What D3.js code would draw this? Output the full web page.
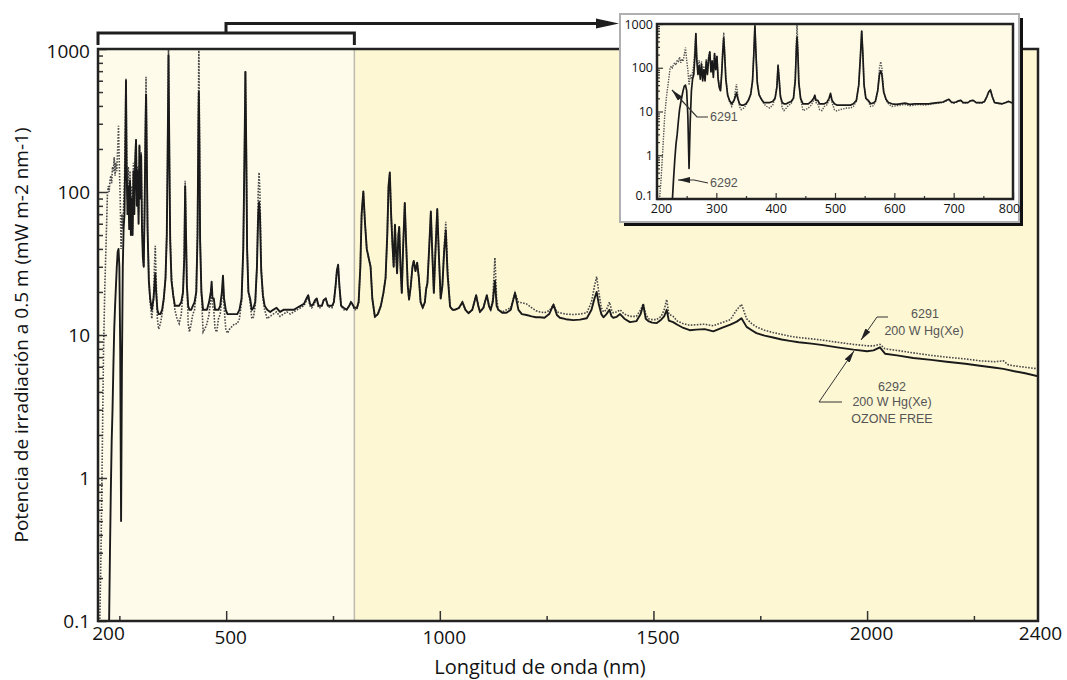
<!DOCTYPE html>
<html>
<head>
<meta charset="UTF-8">
<style>
    * { margin: 0; padding: 0; }
    body { background: #fff; width: 1067px; height: 680px; overflow: hidden; }
    svg text { font-family: "Open Sans", sans-serif; }
    .note { font-family: "Liberation Sans", Arial, sans-serif; font-size: 12.5px; fill: #555; }
</style>
<script src="https://d3js.org/d3.v7.min.js"></script>
<title>Lámparas 6291 / 6292</title>
</head>
<body>
<svg id="chart" width="1067" height="680"></svg>
<script>
// wavelength (nm) and spectral irradiance at 0.5 m (mW m-2 nm-1)
var wavelength = [200,204,207,210,213,216,219,222,224,226,228,230,232,234,236,238,240,242,244,246,248,250,252,254,256,258,260,262,264,265.5,267,269,271,273,275,277,279,281,283,285,287,289,291,293,295,297,299,301,303,305,307,309,311,312.5,314,316,319,322,326,330,332,334,336,339,342,346,350,354,358,361,363,365,367,369,372,376,380,385,390,395,399,402,404,406,408,411,414,418,422,426,430,433,435,436,437.5,439,442,446,450,455,460,464,466,468,471,474,478,482,486,490,492.5,495,499,503,508,514,520,526,531,536,540,543,545,547,549,552,556,560,564,568,572,575,577,579,582,586,590,596,603,610,618,626,634,642,650,658,666,674,682,688,692,696,700,704,708,712,716,720,724,728,733,738,743,748,752,756,759,762,765,769,775,782,788,792,795,800,806,810,814,817,821,825,829,834,838,842,848,855,862,868,873,877,880,883,886,889,892,895,898,900,903,905,908,911,914,918,921,925,928,932,936,939,943,947,951,955,960,965,968,971,975,979,982,986,990,994,998,1002,1006,1010,1014,1018,1024,1030,1035,1045,1053,1060,1067,1076,1085,1090,1094,1102,1110,1115,1119,1124,1129,1133,1137,1146,1156,1166,1176,1184,1192,1203,1215,1225,1234,1245,1256,1266,1274,1281,1295,1312,1328,1344,1355,1362,1367,1372,1378,1383,1390,1397,1402,1406,1414,1422,1432,1445,1460,1470,1476,1482,1488,1497,1507,1518,1525,1531,1536,1546,1556,1570,1585,1600,1620,1640,1660,1680,1695,1706,1718,1730,1741,1760,1780,1800,1819,1840,1870,1897,1930,1968,2000,2015,2030,2042,2070,2108,2150,2186,2230,2264,2300,2319,2330,2342,2370,2400];

var irr6291 = [0.05,0.09,0.3,1.5,8,22,45,95,110,100,120,130,115,150,140,175,130,160,140,200,290,150,90,40,70,55,80,120,300,620,200,90,150,70,140,60,110,55,160,80,180,235,90,150,70,215,100,190,60,40,30,80,300,640,250,60,25,17,13,18,30,42,25,13,11,12,14,18,25,50,200,1000,200,50,25,19,15,13,12,14,20,40,120,60,25,12,10.5,12,14,15,20,60,400,1100,300,50,20,10.5,11,12,14,18,20,16,15,11,10.5,13,14,18,24,16,11,10.3,11,11.5,12,12,13,17,40,200,700,200,40,20,17,13,13.4,16,30,100,137,100,30,18,15,13,13.5,14,14.5,13.5,14,14.5,14,14.5,15,15.5,16,17.5,19,16,15.5,16,17,18,15.5,15.5,16,17.5,18,16,15.5,15.5,17,22,28,31,22,16,15,15,16,17,16.5,15,15,17,30,70,101,60,40,34,30,18,13.4,14,16,19.7,25,50,110,137,70,44,30,59,35,27,50,57,30,19.7,40,84,45,22,17.7,22,30,33,28,32,25,17,15.5,17,21,23,40,73,40,19.7,40,76,35,18,22,40,62,30,15.8,15,15,15.5,17,15,14.2,15,19,16,14.5,15.5,19,16,15,18,34.7,18,15,14.5,15,15.5,19.7,17,16.8,16.5,15.5,14.8,14.5,14.3,14.8,16.3,14.5,14.3,14,13.9,14,14.3,17,22,25.6,20,15.5,14.5,15,17,15,14.3,14.5,15,14,13.5,13.5,15,16.5,14,13,12.8,12.8,13.5,15,17.7,14,13.5,12.5,12,11.7,11.8,11.9,11.6,12.2,12.8,15,16.4,13,12,11.4,10.8,10.4,10.1,9.8,9.6,9.4,9.2,8.9,8.6,8.4,8.4,8.6,8.0,7.8,7.5,7.2,7.0,6.8,6.6,6.5,6.6,6.2,6.1,5.95,5.8];

var irr6292 = [0.02,0.02,0.02,0.02,0.02,0.02,0.02,0.03,0.06,0.1,0.3,0.8,1.8,3,6,11,16,22,30,38,40,30,8,0.5,6,30,56,70,200,600,150,70,110,55,120,50,90,50,140,70,160,230,80,140,60,210,90,180,55,35,30,70,250,480,200,55,24,18,15,18,22,27,20,15,14,14,15,18,25,50,180,900,180,45,24,19,16,16,16,17,20,35,110,50,22,16,15,15,16,17,20,50,300,500,200,45,20,15,15,15,17,20,23.6,18,18,15,15,15,16,20,26,18,15,14,14,14,14,14,15,18,40,200,690,200,40,20,18,15,15.5,17,30,70,85,70,28,19,16,15,14.5,15,15.5,14.5,15,15,15,15,15.5,16,16.5,18,19,16.5,16,16.5,17.5,18,16,16,16,17.5,18,16,16,16,17,22,28,31,22,16,15.5,15,16,17,16.5,15.5,15.5,17,30,70,101,60,40,34,30,18,13.4,14,16,19.7,25,50,110,137,70,44,30,59,35,27,50,57,30,19.7,40,84,45,22,17.7,22,30,33,28,32,25,17,15.5,17,21,23,40,73,40,19.7,40,76,35,18,22,38,54,27,15.8,15,15,15.5,17,15,14.2,15,19,16,14.5,15.5,19,16,15,17,24,16,15,14.3,14.3,15,19.7,15,14,13.8,13.5,13.3,13.3,13.2,14,16.3,13.8,13.2,12.9,12.7,12.8,13.1,15,18,20,16.5,14,13.3,14,15,13.5,13.2,13.4,14,13,12.3,12.5,14,16.3,13,12.5,12.2,12.1,12.8,13.5,15,12.6,12.3,11.8,11.2,10.8,10.9,11,10.6,11.2,11.8,12.4,13.1,11.4,10.8,10.3,9.9,9.6,9.3,9.1,8.9,8.7,8.5,8.2,7.9,7.7,7.8,8.2,7.4,7.2,6.9,6.7,6.5,6.3,6.1,5.9,5.8,5.7,5.6,5.4,5.15];

var xTickLabels = [200, 500, 1000, 1500, 2000, 2400];
var yTickLabels = [0.1, 1, 10, 100, 1000];
var insetXTicks = [200, 300, 400, 500, 600, 700, 800];

var svg = d3.select("#chart");
var pts = wavelength.map(function (w, i) { return {w: w, a: irr6291[i], b: irr6292[i]}; });

var plotL = 98, plotR = 1038, plotT = 49, plotB = 621;
var x = d3.scaleLinear().domain([200, 2400]).range([plotL, plotR]);
var y = d3.scaleLog().domain([0.1, 1000]).range([plotB, plotT]);

var minorY = [];
[0.1, 1, 10, 100].forEach(function (d) {
    for (var m = 2; m <= 9; m++) minorY.push(d * m);
});

function fmt(d) { return d < 1 ? "0.1" : String(d); }

// plot background, lighter band for 200-800 nm
svg.append("rect").attr("x", x(200)).attr("y", plotT)
    .attr("width", x(800) - x(200)).attr("height", plotB - plotT).attr("fill", "#fefbea");
svg.append("rect").attr("x", x(800)).attr("y", plotT)
    .attr("width", x(2400) - x(800)).attr("height", plotB - plotT).attr("fill", "#fdf7d4");
svg.append("line").attr("x1", x(800)).attr("x2", x(800)).attr("y1", plotT).attr("y2", plotB)
    .attr("stroke", "#bdbab0").attr("stroke-width", 1.5);

svg.append("clipPath").attr("id", "clipMain").append("rect")
    .attr("x", plotL).attr("y", plotT).attr("width", plotR - plotL).attr("height", plotB - plotT);

var lineA = d3.line().x(function (d) { return x(d.w); }).y(function (d) { return y(d.a); });
var lineB = d3.line().x(function (d) { return x(d.w); }).y(function (d) { return y(d.b); });

var g = svg.append("g").attr("clip-path", "url(#clipMain)");
g.append("path").datum(pts).attr("d", lineA)
    .attr("fill", "none").attr("stroke", "#4a4a4a").attr("stroke-width", 1.6)
    .attr("stroke-dasharray", "1.6,1.4");
g.append("path").datum(pts).attr("d", lineB)
    .attr("fill", "none").attr("stroke", "#1a1a1a").attr("stroke-width", 1.9)
    .attr("stroke-linejoin", "round");

// ticks inside the frame
var tk = svg.append("g");
tk.append("g").attr("transform", "translate(" + plotL + ",0)")
    .call(d3.axisLeft(y).tickValues(minorY).tickSize(-5).tickFormat(""));
tk.append("g").attr("transform", "translate(" + plotL + ",0)")
    .call(d3.axisLeft(y).tickValues(yTickLabels).tickSize(-9).tickFormat(""));
tk.append("g").attr("transform", "translate(0," + plotB + ")")
    .call(d3.axisBottom(x).tickValues([500, 1000, 1500, 2000]).tickSize(-10).tickFormat(""));
tk.append("g").attr("transform", "translate(0," + plotB + ")")
    .call(d3.axisBottom(x).tickValues([250, 750, 1250, 1750, 2250]).tickSize(-5).tickFormat(""));
tk.selectAll(".domain").remove();
tk.selectAll(".tick line").attr("stroke", "#333").attr("stroke-width", 1.5);

// frame
svg.append("rect").attr("x", plotL).attr("y", plotT).attr("width", plotR - plotL).attr("height", plotB - plotT)
    .attr("fill", "none").attr("stroke", "#222").attr("stroke-width", 2.5);

// tick labels
var yl = svg.append("g").attr("transform", "translate(" + plotL + ",0)")
    .call(d3.axisLeft(y).tickValues(yTickLabels).tickSize(0).tickPadding(8).tickFormat(fmt));
yl.select(".domain").remove();
yl.selectAll("text").attr("font-size", "19px").attr("font-family", "Open Sans").attr("fill", "#111")
    .attr("dy", function (d) { return d === 1000 ? "0.45em" : "0.32em"; });

var xl = svg.append("g").attr("transform", "translate(0," + plotB + ")")
    .call(d3.axisBottom(x).tickValues(xTickLabels).tickSize(0).tickPadding(9).tickFormat(d3.format("d")));
xl.select(".domain").remove();
xl.selectAll("text").attr("font-size", "19px").attr("font-family", "Open Sans").attr("fill", "#111")
    .attr("dx", function (d) { return d === 200 ? 10 : (d === 2400 ? 2 : 4); })
    .attr("dy", function (d) { return d === 200 || d >= 2000 ? "0.55em" : "0.75em"; });

svg.append("text").attr("x", 540).attr("y", 674).attr("text-anchor", "middle")
    .attr("font-size", "20px").attr("fill", "#111").text("Longitud de onda (nm)");
svg.append("text").attr("transform", "translate(28,335) rotate(-90)").attr("text-anchor", "middle")
    .attr("font-size", "19px").attr("fill", "#111")
    .text("Potencia de irradiación a 0.5 m (mW m-2 nm-1)");

// arrow heads
var defs = svg.append("defs");
defs.append("marker").attr("id", "arr").attr("viewBox", "0 0 12 6")
    .attr("refX", 12).attr("refY", 3).attr("markerUnits", "userSpaceOnUse")
    .attr("markerWidth", 12).attr("markerHeight", 6).attr("orient", "auto")
    .append("path").attr("d", "M0,0 L12,3 L0,6 Z").attr("fill", "#222");

// labels on the curves
svg.append("path").attr("d", "M888,317 H877 L861,340")
    .attr("fill", "none").attr("stroke", "#333").attr("stroke-width", 1).attr("marker-end", "url(#arr)");
svg.append("text").attr("class", "note").attr("x", 925).attr("y", 318).attr("text-anchor", "middle").text("6291");
svg.append("text").attr("class", "note").attr("x", 924).attr("y", 335).attr("text-anchor", "middle").text("200 W Hg(Xe)");
svg.append("path").attr("d", "M842,402 H819 L854,351")
    .attr("fill", "none").attr("stroke", "#333").attr("stroke-width", 1).attr("marker-end", "url(#arr)");
svg.append("text").attr("class", "note").attr("x", 892).attr("y", 391).attr("text-anchor", "middle").text("6292");
svg.append("text").attr("class", "note").attr("x", 892).attr("y", 406).attr("text-anchor", "middle").text("200 W Hg(Xe)");
svg.append("text").attr("class", "note").attr("x", 892).attr("y", 423).attr("text-anchor", "middle").text("OZONE FREE");

// bracket over 200-800 nm pointing to the inset
svg.append("path").attr("d", "M" + x(200) + ",45 V33 H" + x(800) + " V45 M226,33 V23.5 H598")
    .attr("fill", "none").attr("stroke", "#1e1e1e").attr("stroke-width", 3);
svg.append("path").attr("d", "M596,18.5 L619,23.5 L596,28.5 Z").attr("fill", "#1e1e1e");

// inset 200-800 nm
var ix = d3.scaleLinear().domain([200, 800]).range([657, 1013]);
var iy = d3.scaleLog().domain([0.1, 1000]).range([199, 24]);

svg.append("rect").attr("x", 624).attr("y", 18).attr("width", 399).attr("height", 208).attr("fill", "#111");
svg.append("rect").attr("x", 620).attr("y", 14).attr("width", 399).attr("height", 208)
    .attr("fill", "#fff").attr("stroke", "#b0b0b0").attr("stroke-width", 2);
svg.append("rect").attr("x", 657).attr("y", 24).attr("width", 356).attr("height", 175).attr("fill", "#fefae5");

svg.append("clipPath").attr("id", "clipInset").append("rect")
    .attr("x", 657).attr("y", 24).attr("width", 356).attr("height", 175);
var insetPts = pts.filter(function (d) { return d.w <= 810; });
var iA = d3.line().x(function (d) { return ix(d.w); }).y(function (d) { return iy(d.a); });
var iB = d3.line().x(function (d) { return ix(d.w); }).y(function (d) { return iy(d.b); });
var gi = svg.append("g").attr("clip-path", "url(#clipInset)");
gi.append("path").datum(insetPts).attr("d", iA)
    .attr("fill", "none").attr("stroke", "#555").attr("stroke-width", 1.4).attr("stroke-dasharray", "1.4,1.2");
gi.append("path").datum(insetPts).attr("d", iB)
    .attr("fill", "none").attr("stroke", "#1a1a1a").attr("stroke-width", 1.7).attr("stroke-linejoin", "round");

var insetTicks = svg.append("g");
insetTicks.append("g").attr("transform", "translate(657,0)")
    .call(d3.axisLeft(iy).tickValues(minorY).tickSize(-3).tickFormat(""));
insetTicks.append("g").attr("transform", "translate(657,0)")
    .call(d3.axisLeft(iy).tickValues(yTickLabels).tickSize(-6).tickFormat(""));
insetTicks.append("g").attr("transform", "translate(0,199)")
    .call(d3.axisBottom(ix).tickValues(d3.range(250, 800, 100)).tickSize(-3).tickFormat(""));
insetTicks.append("g").attr("transform", "translate(0,199)")
    .call(d3.axisBottom(ix).tickValues(insetXTicks).tickSize(-6).tickFormat(""));
insetTicks.selectAll(".domain").remove();
insetTicks.selectAll(".tick line").attr("stroke", "#333").attr("stroke-width", 1.2);

svg.append("rect").attr("x", 657).attr("y", 24).attr("width", 356).attr("height", 175)
    .attr("fill", "none").attr("stroke", "#222").attr("stroke-width", 2.5);

var iyl = svg.append("g").attr("transform", "translate(657,0)")
    .call(d3.axisLeft(iy).tickValues(yTickLabels).tickSize(0).tickPadding(4).tickFormat(fmt));
iyl.select(".domain").remove();
iyl.selectAll("text").attr("font-size", "12.5px").attr("font-family", "Open Sans").attr("fill", "#111")
    .attr("dy", function (d) { return d < 1 ? "0.05em" : "0.32em"; });
var ixl = svg.append("g").attr("transform", "translate(0,199)")
    .call(d3.axisBottom(ix).tickValues(insetXTicks).tickSize(0).tickPadding(5).tickFormat(d3.format("d")));
ixl.select(".domain").remove();
ixl.selectAll("text").attr("font-size", "12.5px").attr("font-family", "Open Sans").attr("fill", "#111")
    .attr("dx", function (d) { return d === 800 ? -4 : (d === 200 ? 4 : 0); });

svg.append("path").attr("d", "M708,117 H697 L672,90")
    .attr("fill", "none").attr("stroke", "#333").attr("stroke-width", 1.2).attr("marker-end", "url(#arr)");
svg.append("text").attr("class", "note").attr("x", 710).attr("y", 121).attr("font-size", "11.5px").text("6291");
svg.append("path").attr("d", "M708,183 L694,180 H678")
    .attr("fill", "none").attr("stroke", "#333").attr("stroke-width", 1.2).attr("marker-end", "url(#arr)");
svg.append("text").attr("class", "note").attr("x", 710).attr("y", 187).attr("font-size", "11.5px").text("6292");
</script>
</body>
</html>
